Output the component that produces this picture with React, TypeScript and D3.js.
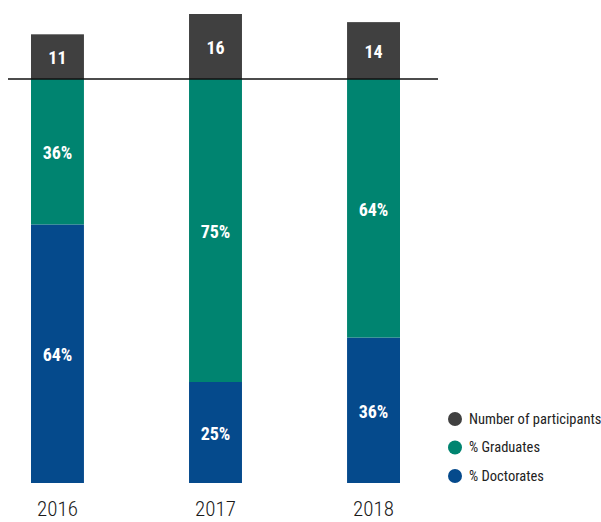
import React, { useEffect, useRef } from 'react';
import * as d3 from 'd3';

const years = ['2016', '2017', '2018'];
const participants = [11, 16, 14];
const graduates = [36, 75, 64];
const doctorates = [64, 25, 36];
const legendItems = ['Number of participants', '% Graduates', '% Doctorates'];

const COLORS = { dark: '#404040', green: '#008470', blue: '#054a8c' };
const NARROW = '"Liberation Sans Narrow", "Roboto Condensed", "DejaVu Sans Condensed", sans-serif';

export default function App() {
  const svgRef = useRef<SVGSVGElement>(null);

  useEffect(() => {
    if (!svgRef.current) return;
    const svg = d3.select(svgRef.current);
    svg.selectAll('*').remove();

    // x positions of the three bars
    const x = d3.scaleBand().domain(years).range([31, 400]).paddingInner(0.665).paddingOuter(0);
    // percent stack: 0 at the bottom, 100 at the base line
    const y = d3.scaleLinear().domain([0, 100]).range([483, 79]);
    // participant boxes sit above the base line
    const cnt = d3.scaleLinear().domain([0, 16]).range([0, 65]);

    const data = years.map((yr, i) => ({
      yr,
      n: participants[i],
      doc: doctorates[i],
      grad: graduates[i],
    }));

    const g = svg.append('g');

    // doctorates (bottom)
    g.selectAll('rect.doc')
      .data(data)
      .join('rect')
      .attr('class', 'doc')
      .attr('x', d => x(d.yr)!)
      .attr('width', x.bandwidth())
      .attr('y', d => y(d.doc))
      .attr('height', d => y(0) - y(d.doc))
      .attr('fill', COLORS.blue);

    // graduates (stacked on top)
    g.selectAll('rect.grad')
      .data(data)
      .join('rect')
      .attr('class', 'grad')
      .attr('x', d => x(d.yr)!)
      .attr('width', x.bandwidth())
      .attr('y', d => y(d.doc + d.grad))
      .attr('height', d => y(d.doc) - y(d.doc + d.grad))
      .attr('fill', COLORS.green);

    // participant boxes
    g.selectAll('rect.num')
      .data(data)
      .join('rect')
      .attr('class', 'num')
      .attr('x', d => x(d.yr)!)
      .attr('width', x.bandwidth())
      .attr('y', d => y(100) - cnt(d.n))
      .attr('height', d => cnt(d.n))
      .attr('fill', COLORS.dark);

    // base line
    g.append('line')
      .attr('x1', 8)
      .attr('x2', 438)
      .attr('y1', y(100))
      .attr('y2', y(100))
      .attr('stroke', '#111')
      .attr('stroke-width', 1.5);

    const label = (sel: any) =>
      sel
        .attr('text-anchor', 'middle')
        .attr('dominant-baseline', 'central')
        .attr('fill', '#fff')
        .attr('font-family', NARROW)
        .attr('font-weight', 'bold')
        .attr('font-size', 18);

    g.selectAll('text.num')
      .data(data)
      .join('text')
      .attr('class', 'num')
      .attr('x', d => x(d.yr)! + x.bandwidth() / 2)
      .attr('y', d => y(100) - cnt(d.n) / 2 + 1)
      .call(label)
      .text(d => String(d.n));

    g.selectAll('text.grad')
      .data(data)
      .join('text')
      .attr('class', 'grad')
      .attr('x', d => x(d.yr)! + x.bandwidth() / 2)
      .attr('y', d => (y(d.doc) + y(d.doc + d.grad)) / 2 + 1)
      .call(label)
      .text(d => `${d.grad}%`);

    g.selectAll('text.doc')
      .data(data)
      .join('text')
      .attr('class', 'doc')
      .attr('x', d => x(d.yr)! + x.bandwidth() / 2)
      .attr('y', d => (y(0) + y(d.doc)) / 2 + 1)
      .call(label)
      .text(d => `${d.doc}%`);

    // year labels
    g.selectAll('text.year')
      .data(data)
      .join('text')
      .attr('class', 'year')
      .attr('x', d => x(d.yr)! + x.bandwidth() / 2)
      .attr('y', 516)
      .attr('text-anchor', 'middle')
      .attr('fill', '#1a1a1a')
      .attr('font-family', NARROW)
      .attr('font-weight', 300)
      .attr('font-size', 21)
      .text(d => d.yr);

    // legend
    const legendColors = [COLORS.dark, COLORS.green, COLORS.blue];
    const lg = svg.append('g');
    const ly = d3.scaleLinear().domain([0, 2]).range([419, 476]);
    legendItems.forEach((t, i) => {
      lg.append('circle')
        .attr('cx', 455)
        .attr('cy', ly(i))
        .attr('r', 7)
        .attr('fill', legendColors[i]);
      lg.append('text')
        .attr('x', 469)
        .attr('y', ly(i))
        .attr('dominant-baseline', 'central')
        .attr('fill', '#222')
        .attr('font-family', NARROW)
        .attr('font-size', 14.5)
        .text(t);
    });
  }, []);

  return (
    <svg
      ref={svgRef}
      width={601}
      height={522}
      style={{ position: 'absolute', left: 0, top: 0, background: '#fff' }}
    />
  );
}
